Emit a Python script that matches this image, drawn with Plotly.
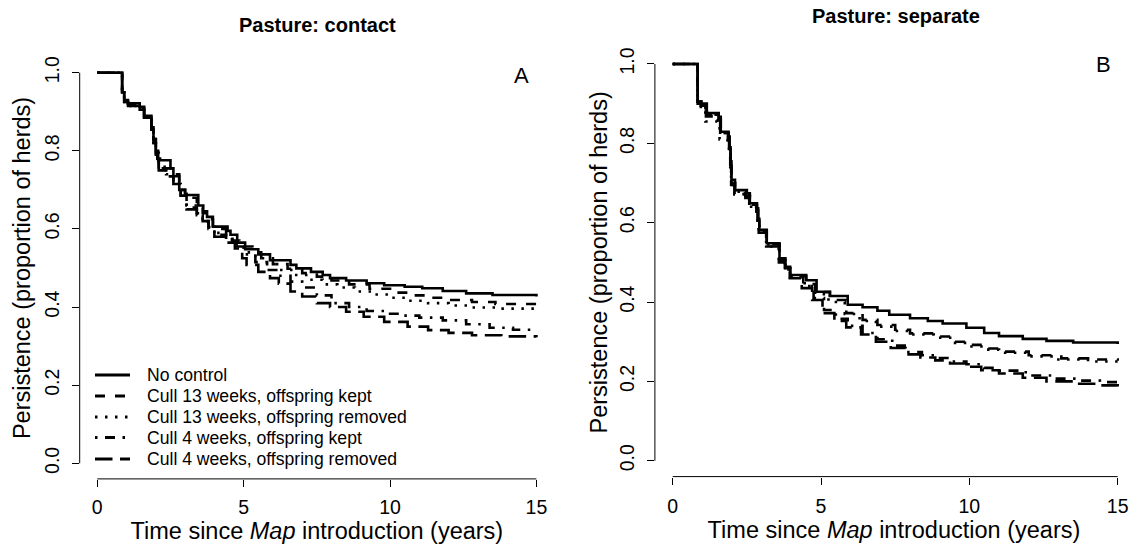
import plotly.graph_objects as go

# ---- Kaplan-Meier style persistence curves (step functions) ----
series_names = [
    "No control",
    "Cull 13 weeks, offspring kept",
    "Cull 13 weeks, offspring removed",
    "Cull 4 weeks, offspring kept",
    "Cull 4 weeks, offspring removed",
]

# Panel A: pasture contact
a_no_t = [0, 0.85, 0.92, 1.05, 1.45, 1.6, 1.85, 1.92, 2.0, 2.08, 2.5, 2.6, 2.8, 3.0, 3.45, 3.62, 3.75, 3.95, 4.45, 4.55, 4.78, 5.05, 5.5, 5.9, 6.6, 6.8, 7.3, 7.7, 7.95, 8.5, 9.2, 9.8, 10.5, 11.1, 11.8, 12.6, 13.5, 15]
a_no_v = [1.0, 0.95, 0.93, 0.922, 0.913, 0.89, 0.86, 0.83, 0.80, 0.776, 0.755, 0.735, 0.70, 0.687, 0.66, 0.645, 0.631, 0.606, 0.595, 0.585, 0.565, 0.548, 0.535, 0.52, 0.508, 0.499, 0.49, 0.482, 0.474, 0.468, 0.461, 0.456, 0.452, 0.448, 0.441, 0.435, 0.431, 0.427]

a_c13k_t = [0, 0.85, 0.92, 1.05, 1.45, 1.6, 1.85, 1.92, 2.0, 2.05, 2.3, 2.6, 2.8, 3.0, 3.4, 3.6, 3.75, 3.95, 4.4, 4.6, 4.85, 5.3, 5.6, 6.0, 6.5, 7.0, 7.5, 8.0, 8.6, 9.3, 10.0, 10.6, 11.3, 12.0, 12.8, 13.6, 15]
a_c13k_v = [1.0, 0.95, 0.93, 0.92, 0.91, 0.885, 0.86, 0.83, 0.80, 0.78, 0.755, 0.74, 0.70, 0.68, 0.655, 0.64, 0.625, 0.60, 0.585, 0.57, 0.555, 0.54, 0.525, 0.51, 0.498, 0.487, 0.478, 0.468, 0.458, 0.447, 0.437, 0.43, 0.424, 0.418, 0.413, 0.408, 0.405]

a_c13r_t = [0, 0.85, 0.92, 1.05, 1.45, 1.6, 1.85, 1.92, 2.0, 2.1, 2.35, 2.6, 2.85, 3.05, 3.4, 3.6, 3.8, 4.0, 4.4, 4.7, 5.0, 5.4, 5.8, 6.2, 6.7, 7.2, 7.7, 8.2, 8.8, 9.4, 10.0, 10.6, 11.3, 12.0, 12.8, 13.6, 15]
a_c13r_v = [1.0, 0.95, 0.925, 0.915, 0.905, 0.885, 0.855, 0.82, 0.795, 0.755, 0.74, 0.72, 0.69, 0.66, 0.64, 0.625, 0.61, 0.59, 0.575, 0.56, 0.54, 0.525, 0.51, 0.495, 0.482, 0.47, 0.458, 0.45, 0.44, 0.432, 0.424, 0.416, 0.41, 0.404, 0.399, 0.396, 0.394]

a_c4k_t = [0, 0.85, 0.92, 1.05, 1.45, 1.6, 1.85, 1.92, 2.0, 2.1, 2.35, 2.6, 2.85, 3.05, 3.4, 3.6, 3.8, 4.0, 4.4, 4.7, 5.0, 5.4, 5.8, 6.2, 6.6, 7.0, 7.5, 8.0, 8.6, 9.2, 9.8, 10.4, 11.0, 11.8, 12.6, 13.4, 14.2, 15]
a_c4k_v = [1.0, 0.95, 0.925, 0.915, 0.905, 0.885, 0.855, 0.82, 0.79, 0.75, 0.735, 0.715, 0.685, 0.655, 0.635, 0.62, 0.605, 0.585, 0.57, 0.555, 0.535, 0.515, 0.495, 0.48, 0.465, 0.45, 0.43, 0.41, 0.40, 0.39, 0.383, 0.378, 0.373, 0.366, 0.356, 0.347, 0.342, 0.339]

a_c4r_t = [0, 0.85, 0.92, 1.05, 1.45, 1.6, 1.85, 1.92, 2.0, 2.1, 2.35, 2.6, 2.85, 3.05, 3.4, 3.6, 3.8, 4.0, 4.4, 4.7, 4.95, 5.1, 5.5, 5.9, 6.2, 6.6, 7.0, 7.5, 7.95, 8.5, 9.1, 9.8, 10.6, 11.3, 12.0, 12.8, 13.8, 15]
a_c4r_v = [1.0, 0.95, 0.925, 0.915, 0.905, 0.885, 0.855, 0.82, 0.79, 0.75, 0.735, 0.715, 0.685, 0.65, 0.635, 0.62, 0.60, 0.58, 0.565, 0.55, 0.525, 0.508, 0.49, 0.474, 0.46, 0.44, 0.427, 0.41, 0.40, 0.388, 0.375, 0.362, 0.35, 0.341, 0.334, 0.328, 0.325, 0.323]

# Panel B: pasture separate
b_no_t = [0, 0.84, 0.97, 1.15, 1.55, 1.62, 1.88, 1.92, 1.95, 1.98, 2.1, 2.5, 2.6, 2.84, 2.88, 2.92, 3.17, 3.6, 3.8, 3.96, 4.5, 4.85, 5.3, 5.9, 6.4, 6.9, 7.3, 8.0, 8.6, 9.1, 9.9, 10.5, 11.0, 11.8, 12.6, 13.5, 15]
b_no_v = [1.0, 0.905, 0.90, 0.876, 0.867, 0.829, 0.817, 0.79, 0.755, 0.708, 0.682, 0.674, 0.649, 0.636, 0.61, 0.582, 0.548, 0.51, 0.489, 0.468, 0.455, 0.426, 0.415, 0.393, 0.387, 0.378, 0.368, 0.359, 0.352, 0.346, 0.335, 0.322, 0.314, 0.307, 0.302, 0.298, 0.294]

b_c13k_t = [0, 0.84, 0.95, 1.15, 1.55, 1.62, 1.88, 1.92, 1.95, 1.98, 2.1, 2.45, 2.6, 2.84, 2.88, 2.92, 3.17, 3.6, 3.8, 3.96, 4.5, 4.8, 5.3, 5.85, 6.4, 6.9, 7.5, 8.0, 8.9, 9.5, 9.9, 10.5, 11.0, 12.0, 13.1, 14.0, 15]
b_c13k_v = [1.0, 0.905, 0.895, 0.872, 0.862, 0.826, 0.812, 0.785, 0.75, 0.70, 0.678, 0.668, 0.645, 0.632, 0.605, 0.578, 0.545, 0.505, 0.485, 0.465, 0.445, 0.425, 0.405, 0.372, 0.355, 0.342, 0.33, 0.321, 0.313, 0.30, 0.292, 0.283, 0.275, 0.266, 0.258, 0.255, 0.252]

b_c13r_t = [0, 0.84, 0.95, 1.1, 1.5, 1.58, 1.85, 1.9, 1.94, 1.97, 2.08, 2.45, 2.58, 2.82, 2.86, 2.9, 3.15, 3.58, 3.78, 3.95, 4.45, 4.8, 5.25, 5.8, 6.3, 6.85, 7.5, 8.0, 8.8, 9.4, 9.9, 10.5, 11.0, 12.0, 13.0, 14.0, 15]
b_c13r_v = [1.0, 0.9, 0.885, 0.855, 0.85, 0.81, 0.80, 0.775, 0.74, 0.695, 0.672, 0.662, 0.64, 0.628, 0.6, 0.575, 0.54, 0.502, 0.482, 0.462, 0.44, 0.42, 0.40, 0.37, 0.352, 0.338, 0.327, 0.318, 0.31, 0.297, 0.288, 0.28, 0.272, 0.263, 0.255, 0.25, 0.247]

b_c4k_t = [0, 0.84, 0.95, 1.15, 1.55, 1.62, 1.88, 1.92, 1.95, 1.98, 2.1, 2.45, 2.6, 2.84, 2.88, 2.92, 3.17, 3.6, 3.8, 3.96, 4.4, 4.75, 5.1, 5.5, 5.9, 6.4, 6.9, 7.4, 7.9, 8.4, 8.9, 9.4, 9.9, 10.5, 11.0, 11.9, 12.8, 13.6, 14.4, 15]
b_c4k_v = [1.0, 0.905, 0.895, 0.872, 0.862, 0.826, 0.812, 0.785, 0.75, 0.70, 0.678, 0.668, 0.645, 0.632, 0.605, 0.578, 0.545, 0.505, 0.485, 0.465, 0.44, 0.41, 0.38, 0.358, 0.34, 0.322, 0.306, 0.29, 0.274, 0.266, 0.259, 0.25, 0.243, 0.234, 0.227, 0.215, 0.207, 0.202, 0.198, 0.196]

b_c4r_t = [0, 0.84, 0.95, 1.12, 1.52, 1.6, 1.86, 1.9, 1.94, 1.97, 2.08, 2.45, 2.58, 2.82, 2.86, 2.9, 3.15, 3.58, 3.78, 3.95, 4.35, 4.7, 5.05, 5.45, 5.85, 6.35, 6.85, 7.35, 7.85, 8.35, 8.85, 9.35, 9.85, 10.4, 11.0, 11.8, 12.6, 13.5, 14.3, 15]
b_c4r_v = [1.0, 0.9, 0.89, 0.868, 0.858, 0.822, 0.808, 0.78, 0.745, 0.695, 0.672, 0.662, 0.64, 0.628, 0.6, 0.575, 0.54, 0.5, 0.48, 0.46, 0.435, 0.405, 0.372, 0.352, 0.336, 0.318, 0.3, 0.284, 0.268, 0.26, 0.253, 0.245, 0.237, 0.228, 0.22, 0.209, 0.2, 0.194, 0.19, 0.187]

x_ticks = [0, 5, 10, 15]
y_ticks = [0.0, 0.2, 0.4, 0.6, 0.8, 1.0]
panel_titles = ["Pasture: contact", "Pasture: separate"]
panel_tags = ["A", "B"]
x_title = "Time since <i>Map</i> introduction (years)"
y_title = "Persistence (proportion of herds)"

# R-like line types: solid, dashed, dotted, dotdash, longdash
dashes = ["solid", "10px,10px", "2.5px,7.5px", "2.5px,7.5px,10px,7.5px", "17.5px,7.5px"]

FONT = "Liberation Sans, Arial, sans-serif"
LW = 2.6

panel_a = [(a_no_t, a_no_v), (a_c13k_t, a_c13k_v), (a_c13r_t, a_c13r_v),
           (a_c4k_t, a_c4k_v), (a_c4r_t, a_c4r_v)]
panel_b = [(b_no_t, b_no_v), (b_c13k_t, b_c13k_v), (b_c13r_t, b_c13r_v),
           (b_c4k_t, b_c4k_v), (b_c4r_t, b_c4r_v)]

fig = go.Figure()
for panel, xa, ya in [(panel_a, "x", "y"), (panel_b, "x2", "y2")]:
    for i, (t, v) in enumerate(panel):
        fig.add_trace(go.Scatter(
            x=t, y=v, mode="lines", name=series_names[i],
            line=dict(color="black", width=LW, dash=dashes[i], shape="hv"),
            xaxis=xa, yaxis=ya, showlegend=False,
        ))

W, H = 1133, 545

def axis_common():
    return dict(
        showgrid=False, zeroline=False, showline=False,
        ticks="outside", ticklen=7, tickwidth=1, tickcolor="black",
        tickfont=dict(family=FONT, size=19.5, color="black"),
        title_font=dict(family=FONT, size=23.5, color="black"),
    )

xa1 = axis_common(); xa1.update(domain=[79.7 / W, 554 / W], range=[-0.6, 15.6],
                               tickvals=x_ticks, anchor="y", ticklabelstandoff=4,
                               title=dict(text=x_title, standoff=3))
ya1 = axis_common(); ya1.update(domain=[1 - 478.9 / H, 1 - 57.1 / H], range=[-0.04, 1.04],
                               tickvals=y_ticks, tickformat=".1f", tickangle=-90, anchor="x",
                               ticklabelstandoff=5, title=dict(text=y_title, standoff=3))
xa2 = axis_common(); xa2.update(domain=[654.9 / W, 1.0], range=[-0.6, 15.516],
                               tickvals=x_ticks, anchor="y2", ticklabelstandoff=5,
                               title=dict(text=x_title, standoff=1))
ya2 = axis_common(); ya2.update(domain=[1 - 476.6 / H, 1 - 48.1 / H], range=[-0.04, 1.04],
                               tickvals=y_ticks, tickformat=".1f", tickangle=-90, anchor="x2",
                               ticklabelstandoff=5, title=dict(text=y_title, standoff=1))

# Axis lines spanning only the tick range
shapes = []
for xr, yr in [("x", "y"), ("x2", "y2")]:
    shapes.append(dict(type="line", xref=xr, yref=yr + " domain", x0=x_ticks[0], x1=x_ticks[-1],
                       y0=0, y1=0, line=dict(color="black", width=1)))
    shapes.append(dict(type="line", xref=xr + " domain", yref=yr, x0=0, x1=0,
                       y0=y_ticks[0], y1=y_ticks[-1], line=dict(color="black", width=1)))

annotations = [
    dict(text="<b>" + panel_titles[0] + "</b>", xref="paper", yref="paper",
         x=317 / W, y=1 - 25 / H, xanchor="center", yanchor="middle",
         showarrow=False, font=dict(family=FONT, size=20, color="black")),
    dict(text="<b>" + panel_titles[1] + "</b>", xref="paper", yref="paper",
         x=896 / W, y=1 - 16 / H, xanchor="center", yanchor="middle",
         showarrow=False, font=dict(family=FONT, size=20, color="black")),
    dict(text=panel_tags[0], xref="paper", yref="paper", x=521 / W, y=1 - 75 / H,
         xanchor="center", yanchor="middle",
         showarrow=False, font=dict(family=FONT, size=22, color="black")),
    dict(text=panel_tags[1], xref="paper", yref="paper", x=1103 / W, y=1 - 65 / H,
         xanchor="center", yanchor="middle",
         showarrow=False, font=dict(family=FONT, size=22, color="black")),
]

# Legend key for panel A: line sample + label per row
leg_x0, leg_x1, leg_tx = 95, 130, 145
leg_rows = [375, 396, 417, 437.5, 459]
for i, name in enumerate(series_names):
    ry = 1 - leg_rows[i] / H
    shapes.append(dict(type="line", xref="paper", yref="paper",
                       x0=leg_x0 / W, x1=leg_x1 / W, y0=ry, y1=ry,
                       line=dict(color="black", width=2.8, dash=dashes[i])))
    annotations.append(dict(text=name, xref="paper", yref="paper", x=leg_tx / W, y=ry,
                            xanchor="left", yanchor="middle", showarrow=False,
                            font=dict(family=FONT, size=17.6, color="black")))

fig.update_layout(
    width=W, height=H, autosize=False,
    margin=dict(l=0, r=0, t=0, b=0, autoexpand=False),
    paper_bgcolor="white", plot_bgcolor="white",
    xaxis=xa1, yaxis=ya1, xaxis2=xa2, yaxis2=ya2,
    shapes=shapes, annotations=annotations,
    showlegend=False,
    font=dict(family=FONT, color="black"),
)

fig.write_html("out.html")
